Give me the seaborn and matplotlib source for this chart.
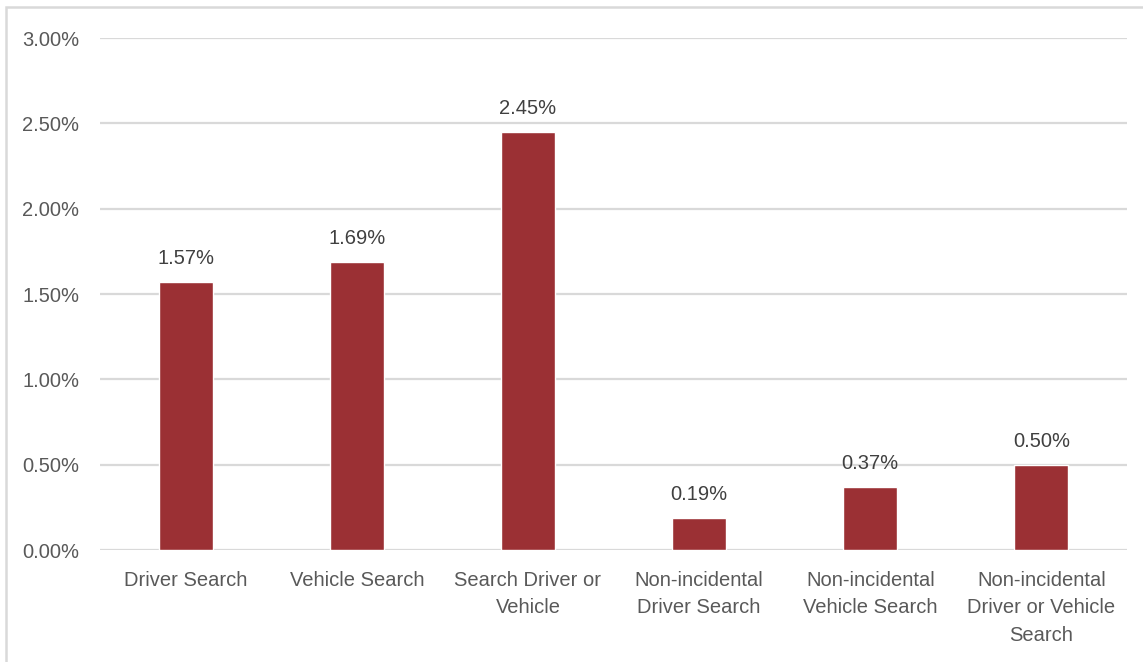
import matplotlib
matplotlib.use("Agg")
import matplotlib.pyplot as plt
import matplotlib.patches as mpatches
from matplotlib.ticker import PercentFormatter, FixedLocator
import seaborn as sns
import pandas as pd

categories = [
    "Driver Search",
    "Vehicle Search",
    "Search Driver or\nVehicle",
    "Non-incidental\nDriver Search",
    "Non-incidental\nVehicle Search",
    "Non-incidental\nDriver or Vehicle\nSearch",
]
rates = [1.57, 1.69, 2.45, 0.19, 0.37, 0.50]
y_ticks = [0.0, 0.5, 1.0, 1.5, 2.0, 2.5, 3.0]

bar_color = "#9B3034"
tick_color = "#595959"
label_color = "#404040"
grid_color = "#D9D9D9"
font_size = 14.5

sns.set_style("white")
plt.rcParams["font.family"] = ["Liberation Sans Narrow", "Liberation Sans", "DejaVu Sans"]

df = pd.DataFrame({"category": categories, "rate": rates})

fig = plt.figure(figsize=(11.43, 6.62), dpi=100)
ax = fig.add_axes([100 / 1143, 1 - 550 / 662, 1027 / 1143, 512 / 662])

sns.barplot(data=df, x="category", y="rate", color=bar_color, saturation=1,
            width=0.316, ax=ax, zorder=3)

ax.set_ylim(0, 3.0)
ax.set_xlim(-0.5, len(categories) - 0.5)
ax.yaxis.set_major_locator(FixedLocator(y_ticks))
ax.yaxis.set_major_formatter(PercentFormatter(100, decimals=2))
ax.grid(axis="y", color=grid_color, linewidth=1.6, zorder=0)
ax.set_axisbelow(True)
for s in ax.spines.values():
    s.set_visible(False)
ax.set_xlabel("")
ax.set_ylabel("")
ax.tick_params(axis="y", length=0, pad=15, labelsize=font_size, labelcolor=tick_color)
ax.tick_params(axis="x", length=0, pad=15, labelsize=font_size, labelcolor=tick_color)
for lbl in ax.get_xticklabels():
    lbl.set_linespacing(1.56)
    lbl.set_verticalalignment("top")

for patch, v in zip(ax.patches, rates):
    ax.annotate(f"{v:.2f}%", (patch.get_x() + patch.get_width() / 2, v),
                xytext=(0, 10), textcoords="offset points",
                ha="center", va="bottom", fontsize=font_size, color=label_color)

# light frame around the chart area
fig.patches.append(mpatches.Rectangle((6 / 1143, -0.1), 1.2, 1 - 7 / 662 + 0.1,
                                      transform=fig.transFigure, fill=False,
                                      edgecolor=grid_color, linewidth=1.8))

fig.savefig("out.png", dpi=100, facecolor="white")
